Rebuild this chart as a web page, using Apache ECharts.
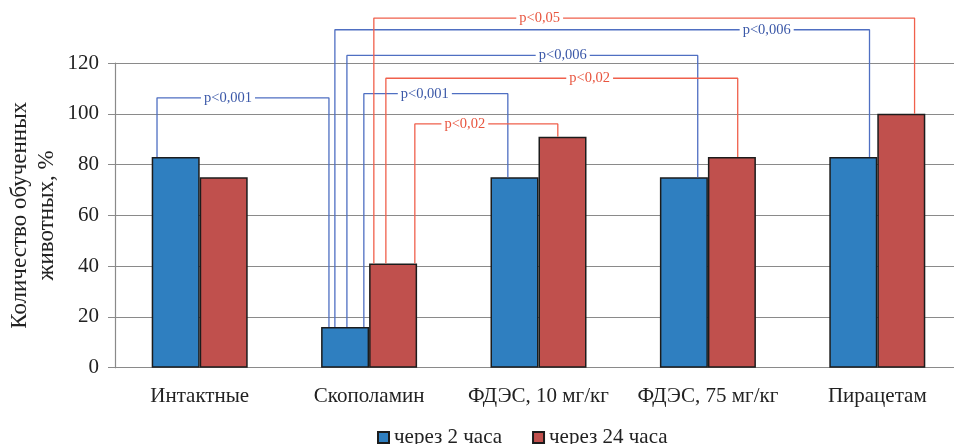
<!DOCTYPE html>
<html><head><meta charset="utf-8">
<script src="https://cdn.jsdelivr.net/npm/echarts@6/dist/echarts.min.js"></script>
<style>html,body{margin:0;padding:0;background:#fff}#c{width:954px;height:444px}</style>
</head><body><div id="c"></div>
<script>
const categories = ['Интактные', 'Скополамин', 'ФДЭС, 10 мг/кг', 'ФДЭС, 75 мг/кг', 'Пирацетам'];
const seriesNames = ['через 2 часа', 'через 24 часа'];
const after2h = [83, 16, 75, 75, 83];
const after24h = [75, 41, 91, 83, 100];
const yTicks = [0, 20, 40, 60, 80, 100, 120];

// significance brackets
const bracketLabels = ['p<0,001', 'p<0,006', 'p<0,006', 'p<0,001', 'p<0,05', 'p<0,02', 'p<0,02'];
const bracketSeries = [0, 0, 0, 0, 1, 1, 1];   // 0 = через 2 часа, 1 = через 24 часа
const bracketFrom = [0, 1, 1, 1, 1, 1, 1];     // category index of left leg
const bracketTo = [1, 4, 3, 2, 4, 3, 2];       // category index of right leg
const bracketLevel = [106.3, 133.1, 123, 107.9, 137.7, 114, 96];
// leg & label positions, in category units (0 = first category centre)
const bracketFromX = [-0.252, 0.798, 0.869, 0.969, 1.028, 1.099, 1.270];
const bracketToX = [0.763, 3.954, 2.940, 1.819, 4.220, 3.176, 2.114];
const bracketLabelX = [0.167, 3.347, 2.143, 1.329, 2.007, 2.302, 1.565];

const barColors = ['#2F7FC0', '#C0504D'];
const lineColors = ['#4F6FC2', '#F0604C'];
const textColors = ['#3B58A8', '#E8553F'];
const FONT = '"Liberation Serif", "DejaVu Serif", serif';

const vals = [after2h, after24h];
const series = [];
seriesNames.forEach((n, i) => {
  series.push({
    name: n, type: 'bar', xAxisIndex: 0, yAxisIndex: 0,
    data: vals[i], barWidth: 48, barGap: '0%',
    itemStyle: { color: barColors[i], borderColor: '#1c1c1c', borderWidth: 1.5 }
  });
});
bracketLabels.forEach((lab, k) => {
  const s = bracketSeries[k];
  const v = vals[s];
  series.push({
    type: 'line', xAxisIndex: 1, yAxisIndex: 0, clip: false, silent: true,
    symbol: 'none', z: 5,
    lineStyle: { color: lineColors[s], width: 1.3 },
    data: [
      [bracketFromX[k], v[bracketFrom[k]]],
      [bracketFromX[k], bracketLevel[k]],
      [bracketToX[k], bracketLevel[k]],
      [bracketToX[k], v[bracketTo[k]]]
    ]
  });
  series.push({
    type: 'scatter', xAxisIndex: 1, yAxisIndex: 0, clip: false, silent: true,
    symbolSize: 1, itemStyle: { opacity: 0 }, z: 6,
    data: [[bracketLabelX[k], bracketLevel[k]]],
    label: {
      show: true, position: 'inside', formatter: lab,
      color: textColors[s], fontFamily: FONT, fontSize: 14.5,
      backgroundColor: '#fff', padding: [0, 3], opacity: 1
    }
  });
});

const chart = echarts.init(document.getElementById('c'), null, { renderer: 'canvas' });
chart.setOption({
  animation: false,
  backgroundColor: '#fff',
  grid: { left: 115, top: 63, width: 847, height: 304.7, containLabel: false, outerBoundsMode: 'none' },
  legend: {
    data: seriesNames, bottom: -9, left: 372,
    icon: 'rect', itemWidth: 11, itemHeight: 11, itemGap: 30,
    textStyle: { fontFamily: FONT, fontSize: 21, color: '#222' }
  },
  xAxis: [{
    type: 'category', data: categories,
    axisLine: { onZero: false, lineStyle: { color: '#8a8a8a', width: 1.2 } },
    axisTick: { length: 7, lineStyle: { color: '#8a8a8a' } },
    axisLabel: { interval: 0, fontFamily: FONT, fontSize: 21, color: '#222', margin: 18 }
  }, {
    type: 'value', min: -0.5, max: 4.5, show: false
  }],
  yAxis: {
    type: 'value', min: yTicks[0], max: yTicks[yTicks.length - 1], interval: 20,
    name: 'Количество обученных\nживотных, %', nameLocation: 'middle', nameRotate: 90, nameGap: 55,
    nameMoveOverlap: false,
    nameTextStyle: { fontFamily: FONT, fontSize: 23, color: '#222', lineHeight: 27 },
    axisLine: { show: true, onZero: false, lineStyle: { color: '#8a8a8a', width: 1.2 } },
    axisTick: { show: true, length: 7, lineStyle: { color: '#8a8a8a' } },
    axisLabel: { fontFamily: FONT, fontSize: 21, color: '#222', margin: 16 },
    splitLine: { lineStyle: { color: '#8a8a8a', width: 1.2 } }
  },
  series: series
});
</script></body></html>
